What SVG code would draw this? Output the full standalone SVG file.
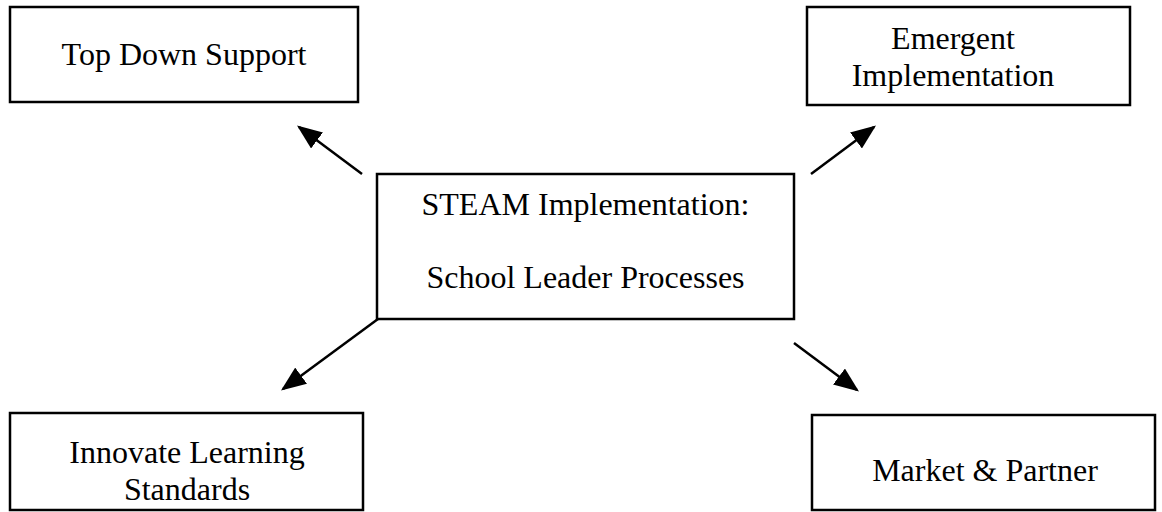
<svg xmlns="http://www.w3.org/2000/svg" width="1162" height="512" viewBox="0 0 1162 512">
<style>
.box{fill:#fff;stroke:#000;stroke-width:2.5}
.t{font-family:"Liberation Serif","Times New Roman",serif;font-size:32px;fill:#000;text-anchor:middle}
.c{stroke:#000;stroke-width:2.5;fill:none;marker-end:url(#ah)}
</style>
<defs>
<marker id="ah" markerWidth="10" markerHeight="8" refX="9" refY="4" orient="auto" markerUnits="strokeWidth">
<path d="M0,0 L10,4 L0,8 z" fill="#000"/>
</marker>
</defs>
<rect width="1162" height="512" fill="#fff"/>
<g id="top-down">
<rect class="box" x="10" y="7" width="348" height="95"/>
<text class="t" x="184" y="65">Top Down Support</text>
</g>
<g id="emergent">
<rect class="box" x="807" y="7" width="323" height="98"/>
<text class="t" x="953" y="49">Emergent</text>
<text class="t" x="953" y="86">Implementation</text>
</g>
<g id="center">
<rect class="box" x="377" y="174" width="417" height="145"/>
<text class="t" x="585.5" y="215">STEAM Implementation:</text>
<text class="t" x="585.5" y="288">School Leader Processes</text>
</g>
<g id="innovate">
<rect class="box" x="10" y="413" width="353" height="97"/>
<text class="t" x="187" y="463">Innovate Learning</text>
<text class="t" x="187" y="500">Standards</text>
</g>
<g id="market">
<rect class="box" x="812" y="415" width="343" height="95"/>
<text class="t" x="985" y="481">Market &amp; Partner</text>
</g>
<g id="connectors">
<path class="c" d="M362,174 L299,127"/>
<path class="c" d="M811,174 L874,127"/>
<path class="c" d="M378,319 L283,389"/>
<path class="c" d="M794,343 L857,390"/>
</g>
</svg>
